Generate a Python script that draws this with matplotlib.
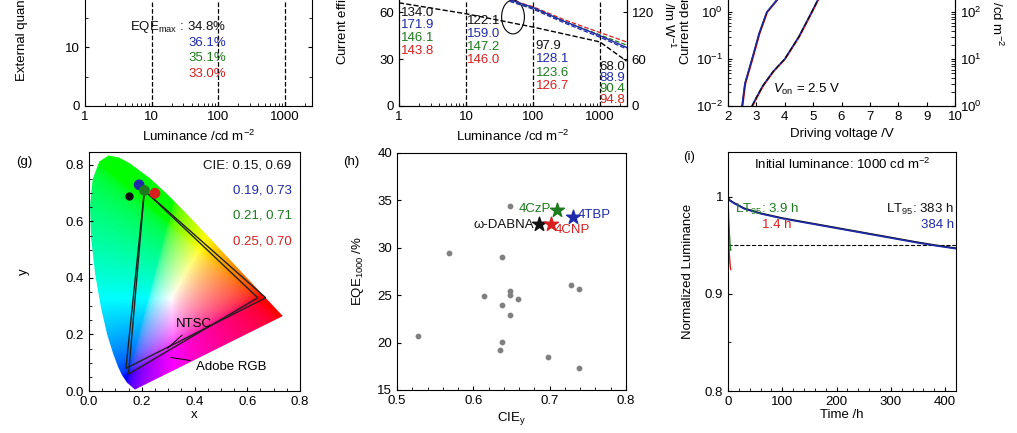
import numpy as np
import matplotlib
matplotlib.use("Agg")
import matplotlib.pyplot as plt
from matplotlib.patches import Polygon, Ellipse
from matplotlib.ticker import MultipleLocator, FixedLocator

plt.rcParams['font.family'] = ['Liberation Sans', 'DejaVu Sans']
plt.rcParams['font.size'] = 9.5
plt.rcParams['mathtext.fontset'] = 'custom'
plt.rcParams['mathtext.rm'] = 'Liberation Sans'
plt.rcParams['mathtext.it'] = 'Liberation Sans:italic'
FS = 9.5

BLK, BLU, GRN, RED = '#111111', '#1f2aa8', '#1e7a1e', '#d62020'

# ---------- data ----------
eqe_labels = ['34.8%', '36.1%', '35.1%', '33.0%']
pe_black = ['134.0', '122.1', '97.9', '68.0']
pe_blue = ['171.9', '159.0', '128.1', '88.9']
pe_green = ['146.1', '147.2', '123.6', '90.4']
pe_red = ['143.8', '146.0', '126.7', '94.8']
e_black_x = [1, 10, 100, 1000, 2500]
e_black_y = [66, 59, 50.5, 41, 28.7]
e_col_x = [45, 100, 300, 1000, 2500]
e_red_y = [68, 63.5, 55, 47, 41]
e_green_y = [67, 62.5, 54, 45.5, 39]
e_blue_y = [68, 63, 54, 45, 37.5]
f_J_V = [2.5, 2.6, 2.85, 3.1, 3.37, 3.75]
f_J = [1e-2, 3e-2, 1e-1, 0.35, 1.0, 1.9]
f_L_V = [2.85, 3.0, 3.23, 3.6, 4.0, 4.5, 4.95, 5.2]
f_L = [1, 1.5, 2.7, 5.5, 10, 30, 100, 200]

locus = np.array([
    [0.1741, 0.0050], [0.1440, 0.0297], [0.1241, 0.0578], [0.1096, 0.0868],
    [0.0913, 0.1327], [0.0687, 0.2007], [0.0454, 0.2950], [0.0235, 0.4127],
    [0.0082, 0.5384], [0.0039, 0.6548], [0.0139, 0.7502], [0.0389, 0.8120],
    [0.0743, 0.8338], [0.1142, 0.8262], [0.1547, 0.8059], [0.2296, 0.7543],
    [0.3016, 0.6923], [0.3731, 0.6245], [0.4441, 0.5547], [0.5125, 0.4866],
    [0.5752, 0.4242], [0.6270, 0.3725], [0.6915, 0.3083], [0.7190, 0.2809],
    [0.7347, 0.2653]])
ntsc = [[0.67, 0.33], [0.21, 0.71], [0.14, 0.08]]
adobe = [[0.64, 0.33], [0.21, 0.71], [0.15, 0.06]]
cie_x = [0.15, 0.19, 0.21, 0.25]
cie_y = [0.69, 0.73, 0.71, 0.70]
cie_labels = ['CIE: 0.15, 0.69', '0.19, 0.73', '0.21, 0.71', '0.25, 0.70']

h_x = [0.648, 0.568, 0.638, 0.728, 0.738, 0.614, 0.648, 0.648, 0.658, 0.638, 0.648, 0.528, 0.638, 0.635, 0.698, 0.738]
h_y = [34.4, 29.5, 29.0, 26.1, 25.7, 24.9, 25.4, 25.0, 24.6, 24.0, 22.9, 20.7, 20.1, 19.2, 18.5, 17.3]
star_names = ['ω-DABNA', '4CzP', '4TBP', '4CNP']
star_x = [0.686, 0.709, 0.731, 0.702]
star_y = [32.5, 34.0, 33.3, 32.5]

i_t = [0, 2, 10, 30, 60, 100, 150, 200, 250, 300, 350, 383, 420]
i_blue = [1.0, 0.997, 0.994, 0.988, 0.983, 0.978, 0.973, 0.968, 0.963, 0.958, 0.953, 0.950, 0.947]
i_fast_t = [0, 0.5, 1.4, 2.5, 3.9, 5]
i_red = [1.0, 0.98, 0.95, 0.94, 0.93, 0.925]
i_green = [1.0, 0.99, 0.975, 0.962, 0.95, 0.945]

W, H = 1017, 433
fig = plt.figure(figsize=(W / 100, H / 100), dpi=100)

def ax_px(l, r, top, bot):
    return fig.add_axes([l / W, (H - bot) / H, (r - l) / W, (bot - top) / H])

def style(ax):
    ax.tick_params(direction='in', which='both', top=False, labelsize=FS, length=3)
    ax.tick_params(which='minor', length=2)

def ylab(x, y, s, rot=90):
    fig.text(x / W, 1 - y / H, s, rotation=rot, ha='center', va='center', fontsize=FS)

# ---------- (d) ----------
ax = ax_px(85, 312, 0, 106)
ax.set_xscale('log'); ax.set_xlim(1, 2540); ax.set_ylim(0, 18)
ax.spines['top'].set_visible(False)
ax.set_xticks([1, 10, 100, 1000]); ax.set_xticklabels(['1', '10', '100', '1000'])
ax.yaxis.set_major_locator(FixedLocator([0, 10])); ax.yaxis.set_minor_locator(FixedLocator([5, 15]))
style(ax); ax.tick_params(axis='y', which='both', right=True)
for v in [10, 100, 1000]:
    ax.axvline(v, color='k', ls='--', lw=0.9)
ax.set_xlabel('Luminance /cd m$^{-2}$')
ylab(22, -10, 'External quantum efficiency /%')
ax.text(0.62, 0.72, 'EQE$_{\\rm max}$ : ' + eqe_labels[0], transform=ax.transAxes, ha='right', color=BLK)
for k, c in zip(range(1, 4), [BLU, GRN, RED]):
    ax.text(0.62, 0.72 - 0.15 * k, eqe_labels[k], transform=ax.transAxes, ha='right', color=c)

# ---------- (e) ----------
ax = ax_px(399, 627, 0, 106)
ax.set_xscale('log'); ax.set_xlim(1, 2540); ax.set_ylim(0, 67.8)
ax.spines['top'].set_visible(False)
ax.set_xticks([1, 10, 100, 1000]); ax.set_xticklabels(['1', '10', '100', '1000'])
ax.set_yticks([0, 30, 60])
style(ax)
for v in [10, 100, 1000]:
    ax.axvline(v, color='k', ls='--', lw=0.9)
ax.plot(e_black_x, e_black_y, 'k--', lw=1)
ax.plot(e_col_x, e_red_y, '--', color=RED, lw=0.9)
ax.plot(e_col_x, e_green_y, '--', color=GRN, lw=0.9)
ax.plot(e_col_x, e_blue_y, '-', color=BLU, lw=1)
ax.plot(e_col_x, [v - 1 for v in e_blue_y], '--', color=BLU, lw=0.9)
ax.add_patch(Ellipse((0.5, 0.84), 0.1, 0.32, transform=ax.transAxes, fill=False, lw=0.8))
ax.set_xlabel('Luminance /cd m$^{-2}$')
ylab(343, -10, 'Current efficiency /cd A$^{-1}$')
xpos = [0.01, 0.3, 0.6, 0.88]
ytop = [13, 21, 46, 67]
steps = [12.5, 13, 13.3, 11]
for i in range(4):
    for k, (lab, c) in enumerate(zip([pe_black, pe_blue, pe_green, pe_red], [BLK, BLU, GRN, RED])):
        y = (106 - (ytop[i] + steps[i] * k)) / 106
        ax.text(xpos[i], y, lab[i], transform=ax.transAxes, color=c, va='center', fontsize=FS)
ax2 = ax.twinx(); ax2.set_ylim(0, 135.6); ax2.set_yticks([0, 60, 120])
ax2.spines['top'].set_visible(False)
ax2.tick_params(direction='in', labelsize=FS, length=3)
ylab(668, -25, 'Power efficiency /lm W$^{-1}$', rot=270)

# ---------- (f) ----------
ax = ax_px(728, 955, 0, 106)
ax.set_yscale('log'); ax.set_xlim(2, 10); ax.set_ylim(1e-2, 1.82)
ax.spines['top'].set_visible(False)
ax.xaxis.set_major_locator(MultipleLocator(1))
style(ax)
for c, dv in [(RED, 0.02), (BLK, 0.0), (BLU, -0.01)]:
    ax.plot([v + dv for v in f_J_V], f_J, '-', color=c, lw=1)
ax.text(0.2, 0.12, '$V_{\\rm on}$ = 2.5 V', transform=ax.transAxes, fontsize=FS)
ax.set_xlabel('Driving voltage /V')
ylab(686, -10, 'Current density /mA cm$^{-2}$')
ax2 = ax.twinx(); ax2.set_yscale('log'); ax2.set_ylim(1, 182)
ax2.spines['top'].set_visible(False)
ax2.tick_params(direction='in', which='both', labelsize=FS, length=3)
for c, dv in [(RED, 0.02), (BLU, -0.01)]:
    ax2.plot([v + dv for v in f_L_V], f_L, '-', color=c, lw=1)
ax2.plot(f_L_V, f_L, '--', color=BLK, lw=1)
ylab(997, -10, 'Luminance /cd m$^{-2}$', rot=270)

# ---------- (g) ----------
ax = ax_px(89, 300, 152, 391)
ax.set_xlim(0, 0.8); ax.set_ylim(0, 0.846)
gx, gy = np.meshgrid(np.linspace(0.001, 0.8, 400), np.linspace(0.001, 0.846, 400))
X = gx / gy; Y = np.ones_like(gx); Z = (1 - gx - gy) / gy
M = np.array([[3.2406, -1.5372, -0.4986], [-0.9689, 1.8758, 0.0415], [0.0557, -0.2040, 1.0570]])
rgb = np.stack([M[i, 0] * X + M[i, 1] * Y + M[i, 2] * Z for i in range(3)], -1)
rgb = np.clip(rgb, 0, None)
rgb = rgb / rgb.max(axis=-1, keepdims=True)
rgb = np.where(rgb <= 0.0031308, 12.92 * rgb, 1.055 * rgb ** (1 / 2.4) - 0.055)
im = ax.imshow(np.clip(rgb, 0, 1), extent=[0.001, 0.8, 0.001, 0.846], origin='lower', aspect='auto', zorder=1)
poly = Polygon(locus, closed=True, facecolor='none', edgecolor='none', transform=ax.transData)
ax.add_patch(poly); im.set_clip_path(poly)
ax.add_patch(Polygon(ntsc, closed=True, fill=False, ec='#222222', lw=1, zorder=3))
ax.add_patch(Polygon(adobe, closed=True, fill=False, ec='#222222', lw=1, zorder=3))
ax.scatter(cie_x[0], cie_y[0], s=25, color=BLK, zorder=4)
ax.scatter(cie_x[1:], cie_y[1:], s=45, color=[BLU, GRN, RED], zorder=4)
ax.annotate('NTSC', xy=(0.29, 0.145), xytext=(0.33, 0.225), fontsize=FS, arrowprops=dict(arrowstyle='-', lw=0.7))
ax.annotate('Adobe RGB', xy=(0.30, 0.12), xytext=(0.405, 0.075), fontsize=FS, arrowprops=dict(arrowstyle='-', lw=0.7))
for k, c in enumerate([BLK, BLU, GRN, RED]):
    ax.text(0.96, 0.93 - 0.105 * k, cie_labels[k], transform=ax.transAxes, ha='right', color=c)
ax.xaxis.set_major_locator(MultipleLocator(0.2)); ax.yaxis.set_major_locator(MultipleLocator(0.2))
ax.xaxis.set_minor_locator(MultipleLocator(0.05)); ax.yaxis.set_minor_locator(MultipleLocator(0.05))
ax.xaxis.set_major_formatter(matplotlib.ticker.FormatStrFormatter('%.1f'))
ax.yaxis.set_major_formatter(matplotlib.ticker.FormatStrFormatter('%.1f'))
style(ax)
ax.set_xlabel('x', labelpad=1); ax.set_ylabel('y', labelpad=26)
fig.text(16 / W, 1 - 165 / H, '(g)', fontsize=FS)

# ---------- (h) ----------
ax = ax_px(397, 626, 153, 390)
ax.set_xlim(0.5, 0.8); ax.set_ylim(15, 40)
ax.scatter(h_x, h_y, s=10, color='#808080', zorder=2)
star_cols = [BLK, GRN, BLU, RED]
for n, x, y, c in zip(star_names, star_x, star_y, star_cols):
    ax.scatter(x, y, marker='*', s=110, color=c, zorder=3)
ax.text(0.680, 32.4, star_names[0], ha='right', va='center', color=BLK)
ax.text(0.702, 34.1, star_names[1], ha='right', va='center', color=GRN)
ax.text(0.737, 33.5, star_names[2], ha='left', va='center', color=BLU)
ax.text(0.707, 31.9, star_names[3], ha='left', va='center', color=RED)
ax.xaxis.set_major_locator(MultipleLocator(0.1)); ax.xaxis.set_minor_locator(MultipleLocator(0.02))
ax.yaxis.set_major_locator(MultipleLocator(5))
style(ax)
ax.set_xlabel('CIE$_{\\rm y}$', labelpad=2); ax.set_ylabel('EQE$_{1000}$ /%', labelpad=8)
fig.text(343 / W, 1 - 165 / H, '(h)', fontsize=FS)

# ---------- (i) ----------
ax = ax_px(728, 956, 152, 391)
ax.set_xlim(0, 420); ax.set_ylim(0.8, 1.046)
ax.axhline(0.95, color='k', ls='--', lw=0.8)
ax.plot(i_t, i_blue, color=BLK, lw=1.2)
ax.plot(i_t, [v - 0.0005 for v in i_blue], color=BLU, lw=1.2)
ax.plot(i_fast_t, i_green, color=GRN, lw=1)
ax.plot(i_fast_t, i_red, color=RED, lw=1)
ax.set_yticks([0.8, 0.9, 1.0]); ax.set_yticklabels(['0.8', '0.9', '1'])
ax.yaxis.set_minor_locator(FixedLocator([0.85, 0.95]))
ax.xaxis.set_major_locator(MultipleLocator(100)); ax.xaxis.set_minor_locator(MultipleLocator(20))
style(ax)
ax.text(0.5, 0.93, 'Initial luminance: 1000 cd m$^{-2}$', transform=ax.transAxes, ha='center')
ax.text(0.03, 0.745, 'LT$_{95}$: 3.9 h', transform=ax.transAxes, color=GRN)
ax.text(0.28, 0.68, '1.4 h', transform=ax.transAxes, color=RED, ha='right')
ax.text(0.99, 0.745, 'LT$_{95}$: 383 h', transform=ax.transAxes, color=BLK, ha='right')
ax.text(0.99, 0.68, '384 h', transform=ax.transAxes, color=BLU, ha='right')
ax.set_xlabel('Time /h', labelpad=1); ax.set_ylabel('Normalized Luminance', labelpad=8)
fig.text(683 / W, 1 - 160 / H, '(i)', fontsize=FS)

fig.savefig('out.png', dpi=100)
